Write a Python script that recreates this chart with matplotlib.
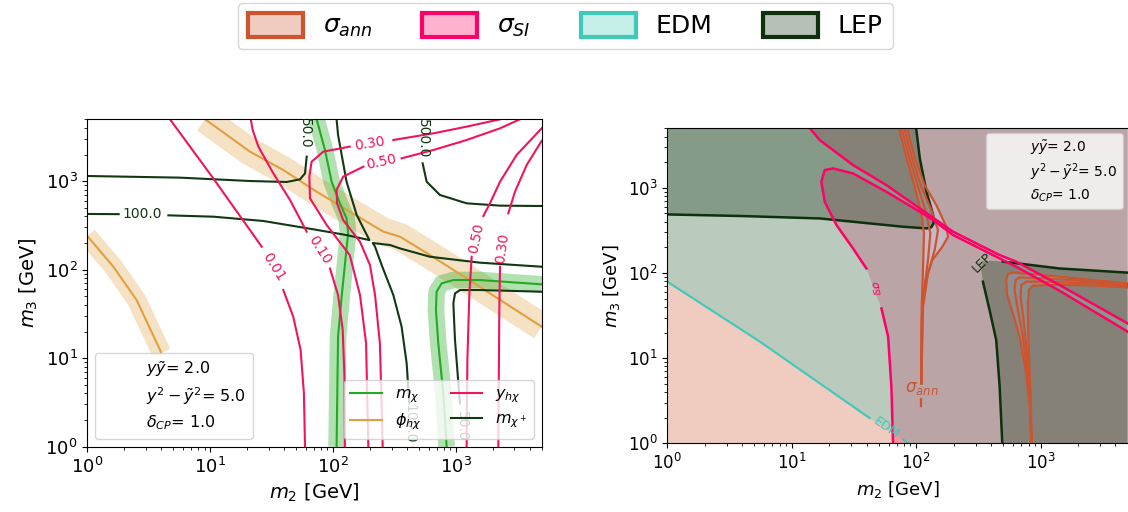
import numpy as np
import matplotlib.pyplot as plt
from matplotlib.lines import Line2D
from matplotlib.patches import Patch, PathPatch
from matplotlib.path import Path
from matplotlib.colors import to_rgba

# ---------------- left panel: contour traces, (m2, m3) in GeV ----------------
phi_upper = [(9.1, 5000), (21.1, 2154), (39.4, 1337), (73.6, 761), (137, 452),
             (257, 269), (351, 236), (616, 146.5), (1225, 79.8), (5000, 22.7)]
phi_lower = [(1, 240), (1.63, 108), (2.52, 45.4), (3.91, 12.4), (4.0, 11.5)]

mchi_a = [(73.6, 5000), (86.1, 2249), (97.5, 986), (114, 562), (129, 380),
          (133, 257), (129, 174), (118, 51.7), (110, 17.5), (107, 1)]
mchi_b = [(842, 1), (791, 4.0), (720, 14.7), (689, 35.0), (698, 56.4),
          (767, 70.1), (955, 76.4), (1574, 76.4), (5000, 68.3)]

mcp50_a = [(61.1, 1892), (59.2, 1225), (53.9, 1049), (42.0, 979), (21.1, 1004),
           (5.68, 1096), (1, 1144)]
mcp50_b = [(5000, 56.4), (1574, 58.9), (1081, 58.9), (985, 54.0), (955, 41.6),
           (985, 16.0), (1081, 3.09)]
mcp100_a = [[(1, 426), (1.8, 424)],
            [(4.57, 411), (10.6, 397), (27.1, 355), (69.2, 286), (129, 246),
             (198, 216), (156, 415), (129, 986), (110, 3325), (107, 5000)]]
mcp100_b = [(5000, 108), (1574, 120), (616, 140), (351, 174), (291, 190),
            (211, 200), (220, 182), (249, 113), (310, 51.7), (362, 22.7),
            (398, 8.74), (418, 3.09)]
mcp500 = [(537, 1590), (579, 986), (743, 698), (1225, 562), (2291, 529), (5000, 524)]

yhc001 = [[(4.71, 5000), (10.6, 1076), (26.3, 182)],
          [(39.4, 58.9), (47.5, 29.4), (54.5, 12.4), (58.0, 4.0), (59.2, 1)]]
yhc010 = [[(21.4, 5000), (22.2, 3784), (24.7, 2455), (32.7, 1225), (44.7, 612), (61.1, 269)],
          [(94.6, 103), (110, 51.7), (120, 20.8), (124, 6.18), (125, 1)]]
yhc030 = [[(2291, 5000), (1225, 4130), (656, 3470), (310, 2917)],
          [(137, 2455), (83.4, 2154), (67.0, 1660), (64.2, 1125), (65.0, 640),
           (88.8, 320), (137, 146), (166, 51.7), (186, 14.7), (194, 1)]]
yhc050 = [[(3327, 5000), (2291, 3954), (1225, 2917), (656, 2249), (362, 1811)],
          [(177, 1459), (121, 1125), (107, 795), (108, 562), (121, 364),
           (166, 207), (200, 113), (220, 51.7), (241, 14.7), (254, 1)]]
yhc050_r = [[(5000, 3954), (3126, 1977), (2291, 986), (1897, 562), (1675, 404)],
            [(1346, 140), (1288, 51.7), (1242, 9.53), (1225, 1)]]
yhc030_r = [[(5000, 2850), (3776, 1523), (3033, 761), (2675, 433)],
            [(2291, 108), (2260, 35), (2218, 1)]]

# ---------------- right panel: exclusion boundaries ----------------
edm_line = [[(1, 79.0), (5.55, 15.6), (42.4, 1.97)], [(78.5, 1.11), (86, 1)]]

si_upper = [(14.0, 5000), (16.8, 3632), (31.1, 1849), (57.6, 1076), (107, 573),
            (198, 305), (469, 162), (637, 136), (1420, 72.2), (5000, 25.6)]
si_lower = [(5000, 20.5), (1420, 61.9), (637, 118.5), (198, 279), (137, 418),
            (107, 524), (57.6, 899), (31.1, 1476), (21.5, 1690), (18.4, 1615),
            (17.3, 1178), (18.4, 687), (22.9, 365), (31.1, 194), (39.8, 113)]
si_tail = [(52.6, 38.4), (59.5, 17.9), (63.2, 4.62), (65.2, 1)]

lep_top = [(1, 487), (4.07, 466), (16.8, 437), (42.4, 382), (78.5, 349), (121, 334),
           (132, 343), (138, 382), (137, 479), (121, 899), (107, 2213), (100, 5000)]
lep_right = [(5000, 101), (1420, 113), (498, 136)]
lep_corner = [(402, 139), (344, 136), (334, 108)]
lep_down = [(344, 79.0), (389, 36.7), (440, 16.3), (469, 4.62), (492, 1)]

ann_a = [
    [(72.8, 5000), (83.4, 2317), (97.3, 1030), (110.1, 501), (115.6, 292),
     (113.5, 108), (110.8, 40.2), (110.1, 11.4), (110.1, 5.06)],
    [(76.5, 5000), (87.6, 2317), (103.5, 1030), (120.7, 501), (130, 292),
     (124.5, 142), (114.8, 57.6), (110.8, 28.0), (110.1, 5.06)],
    [(80.4, 5000), (92.1, 2317), (110.1, 1030), (132.4, 548), (149.9, 319),
     (140.8, 186), (124.5, 98.9), (113.5, 40.2), (110.1, 5.06)],
    [(84.5, 5000), (96.8, 2317), (117, 1076), (145.3, 627), (174.8, 349),
     (180.3, 267), (162.3, 203), (134.9, 142), (119.4, 82.6), (112.2, 40.2),
     (110.1, 5.06)],
]
ann_a_tail = [(110.1, 3.28), (110.1, 2.74)]
ann_b = [
    [(5000, 75.5), (2630, 82.6), (1043, 94.6), (599, 101), (546, 97.1), (530, 82.6),
     (536, 57.6), (599, 33.6), (678, 17.9), (757, 7.26), (815, 2.95), (841, 1)],
    [(5000, 73.5), (2630, 79.7), (1043, 86.4), (678, 88.8), (630, 82.6), (618, 63.1),
     (657, 36.7), (721, 17.9), (776, 7.26), (826, 2.95), (846, 1)],
    [(5000, 70.9), (2630, 75.5), (1109, 79.0), (767, 79.0), (699, 72.2), (690, 52.6),
     (730, 28.0), (776, 11.4), (826, 2.95), (846, 1)],
    [(5000, 67.7), (2630, 71.5), (1256, 72.8), (867, 70.9), (805, 63.1), (791, 44.0),
     (796, 17.9), (815, 7.26), (836, 2.95), (846, 1)],
]

params = [r'$y\tilde{y}$= 2.0', r'$y^2-\tilde{y}^2$= 5.0', r'$\delta_{CP}$= 1.0']

c_green = '#22aa22'
c_phi = '#e0a040'
c_y = '#f0145f'
c_dark = '#103812'
c_ann = '#cc5530'
c_si = '#ff0066'
c_edm = '#40c8b8'
c_lep = '#0d300d'


def xy(pts):
    a = np.asarray(pts, dtype=float)
    return a[:, 0], a[:, 1]


def line(ax, pts, **kw):
    x, y = xy(pts)
    ax.plot(x, y, **kw)


def label(ax, pos, txt, rot, color, size=10):
    ax.text(pos[0], pos[1], txt, rotation=rot, color=color, fontsize=size,
            ha='center', va='center', rotation_mode='anchor')


def ring(pts, ccw):
    a = np.asarray(pts, dtype=float)
    lg = np.log10(a)
    area = 0.5 * np.sum(lg[:, 0] * np.roll(lg[:, 1], -1) - np.roll(lg[:, 0], -1) * lg[:, 1])
    if (area > 0) != ccw:
        a = a[::-1]
    return Path(np.vstack([a, a[:1]]), closed=True)


fig = plt.figure(figsize=(11.28, 5.12), dpi=100)
ax1 = fig.add_axes([0.0774, 0.1275, 0.4028, 0.6395])
ax2 = fig.add_axes([0.5916, 0.1342, 0.4080, 0.6152])

# ---------------- left panel ----------------
for pts, lw in [(phi_upper, 20), (phi_lower, 14)]:
    line(ax1, pts, color=c_phi, lw=lw, alpha=0.3, solid_capstyle='butt')
for pts in (mchi_a, mchi_b):
    line(ax1, pts, color=c_green, lw=12, alpha=0.35, solid_capstyle='butt')
for pts in (phi_upper, phi_lower):
    line(ax1, pts, color=c_phi, lw=1.5)
for pts in (mchi_a, mchi_b):
    line(ax1, pts, color=c_green, lw=1.5)

for pts in [mcp50_a, mcp50_b, mcp100_b, mcp500] + mcp100_a:
    line(ax1, pts, color=c_dark, lw=1.5)
label(ax1, (59.2, 3470), '50.0', -90, c_dark)
label(ax1, (2.80, 426), '100.0', 0, c_dark)
label(ax1, (537, 3048), '500.0', -90, c_dark)
label(ax1, (423, 1.84), '100.0', -90, c_dark)
label(ax1, (1116, 1.68), '50.0', -90, c_dark)

for curve in (yhc001, yhc010, yhc030, yhc050, yhc050_r, yhc030_r):
    for seg in curve:
        line(ax1, seg, color=c_y, lw=1.5)
label(ax1, (32.7, 108), '0.01', -58, c_y)
label(ax1, (78.4, 167), '0.10', -58, c_y)
label(ax1, (200, 2675), '0.30', 9, c_y)
label(ax1, (249, 1660), '0.50', 12, c_y)
label(ax1, (1459, 226), '0.50', 78, c_y)
label(ax1, (2405, 174), '0.30', 82, c_y)

ax1.set_xscale('log')
ax1.set_yscale('log')
ax1.set_xlim(1, 5000)
ax1.set_ylim(1, 5000)
ax1.set_xlabel(r'$m_2$ [GeV]', fontsize=14)
ax1.set_ylabel(r'$m_3$ [GeV]', fontsize=14)
ax1.tick_params(labelsize=13)

key = [Line2D([], [], color=c_green, lw=1.5), Line2D([], [], color=c_phi, lw=1.5),
       Line2D([], [], color=c_y, lw=1.5), Line2D([], [], color=c_dark, lw=1.5)]
leg1 = ax1.legend(key, [r'$m_\chi$', r'$\phi_{h\chi}$', r'$y_{h\chi}$', r'$m_{\chi^+}$'],
                  loc='lower right', ncol=2, fontsize=11.5, columnspacing=1.8,
                  labelspacing=0.4)
ax1.add_artist(leg1)
blank = [Line2D([], [], linestyle='none')] * 3
ax1.legend(blank, params, loc='lower left', fontsize=11.5, labelspacing=0.4)

# ---------------- right panel ----------------
# spin-independent exclusion
ax2.fill(*xy(si_upper + [(5000, 5000)]), color=c_si, alpha=0.3, lw=0, zorder=1)
ax2.fill(*xy(si_lower + si_tail + [(5000, 1)]), color=c_si, alpha=0.3, lw=0, zorder=1)

# relic-density exclusion everywhere except the two funnels
outer = [(1, 1), (5000, 1), (5000, 5000), (1, 5000)]
hole_a = ann_a[3] + ann_a[0][::-1]
hole_b = ann_b[0] + ann_b[3][::-1]
ann_path = Path.make_compound_path(ring(outer, True), ring(hole_a, False), ring(hole_b, False))
ax2.add_patch(PathPatch(ann_path, facecolor=c_ann, alpha=0.3, lw=0, zorder=1.1))

# EDM exclusion above the line
edm_all = edm_line[0] + edm_line[1]
ax2.fill(*xy(edm_all + [(5000, 1), (5000, 5000), (1, 5000)]),
         color=c_edm, alpha=0.3, lw=0, zorder=1.2)

# LEP chargino bound
ax2.fill(*xy(lep_top + [(1, 5000)]), color=c_lep, alpha=0.3, lw=0, zorder=1.3)
ax2.fill(*xy(lep_right + lep_corner + lep_down + [(5000, 1)]),
         color=c_lep, alpha=0.3, lw=0, zorder=1.3)

for seg in edm_line:
    line(ax2, seg, color=c_edm, lw=1.5, zorder=2)
for pts in (si_upper, si_lower, si_tail):
    line(ax2, pts, color=c_si, lw=1.8, zorder=2.2)
for pts in (lep_top, lep_right, lep_down):
    line(ax2, pts, color=c_lep, lw=1.8, zorder=2)
for pts in ann_a + ann_b + [ann_a_tail]:
    line(ax2, pts, color=c_ann, lw=1.6, zorder=2.1)

label(ax2, (110, 4.42), r'$\sigma_{ann}$', 0, c_ann, 12)
label(ax2, (46.5, 65.9), r'$\sigma_{SI}$', -78, c_si, 8)
label(ax2, (57.6, 1.50), 'EDM', -34, c_edm, 9)
label(ax2, (340, 132), 'LEP', 45, c_lep, 9)

ax2.set_xscale('log')
ax2.set_yscale('log')
ax2.set_xlim(1, 5000)
ax2.set_ylim(1, 5000)
ax2.set_xlabel(r'$m_2$ [GeV]', fontsize=13)
ax2.set_ylabel(r'$m_3$ [GeV]', fontsize=13)
ax2.tick_params(labelsize=12)
ax2.legend(blank, params, loc='upper right', fontsize=10, labelspacing=0.3,
           borderaxespad=0.35)

# shared legend
names = [r'$\sigma_{ann}$', r'$\sigma_{SI}$', 'EDM', 'LEP']
cols = [c_ann, c_si, c_edm, c_lep]
patches = [Patch(facecolor=to_rgba(c, 0.3), edgecolor=c, linewidth=3) for c in cols]
fig.legend(patches, names, loc='upper center', bbox_to_anchor=(0.501, 1.0), ncol=4,
           fontsize=18, handlelength=2.2, handleheight=1.1, columnspacing=2.0,
           borderaxespad=0.1)

fig.savefig('out.png', dpi=100)
